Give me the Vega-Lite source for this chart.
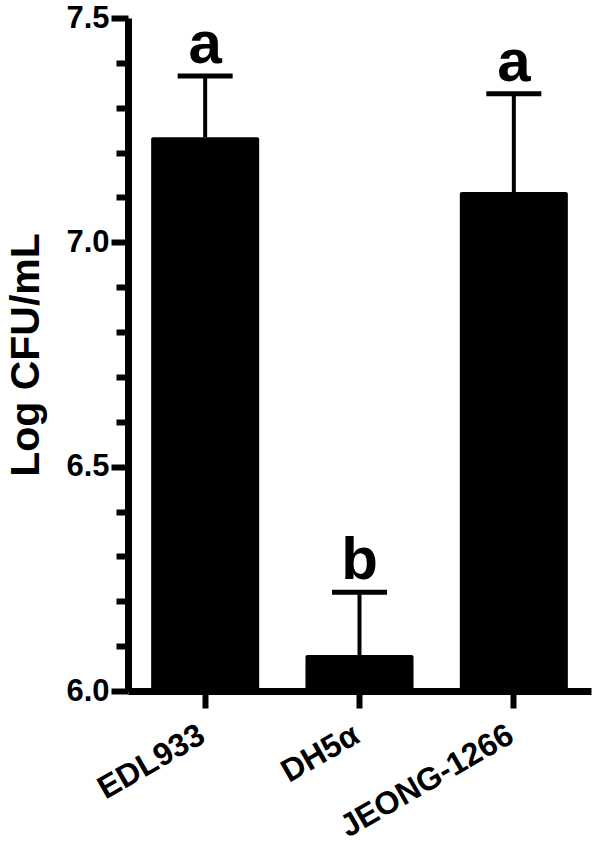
{
  "$schema": "https://vega.github.io/schema/vega-lite/v6.json",
  "width": 463,
  "height": 673,
  "autosize": {"type": "none"},
  "padding": {"left": 128, "top": 18, "right": 5, "bottom": 154},
  "background": "white",
  "config": {
    "font": "Liberation Sans",
    "view": {"stroke": null},
    "axis": {"grid": false, "domainColor": "black", "tickColor": "black", "labelColor": "black", "titleColor": "black", "labelFont": "Liberation Sans", "titleFont": "Liberation Sans", "labelFontWeight": "bold", "titleFontWeight": "bold"}
  },
  "data": {
    "values": [
      {"strain": "EDL933", "mean": 7.234, "upper": 7.371, "group": "a"},
      {"strain": "DH5α", "mean": 6.080, "upper": 6.220, "group": "b"},
      {"strain": "JEONG-1266", "mean": 7.112, "upper": 7.331, "group": "a"}
    ]
  },
  "encoding": {
    "x": {
      "field": "strain",
      "type": "nominal",
      "sort": null,
      "scale": {"paddingInner": 0.3, "paddingOuter": 0.15},
      "axis": {
        "title": null,
        "labelAngle": -30,
        "labelAlign": "right",
        "labelBaseline": "middle",
        "labelFontSize": 32,
        "labelPadding": 24,
        "labelOffset": -3,
        "labelLimit": 0,
        "tickSize": 17,
        "tickWidth": 6,
        "domainWidth": 7
      }
    }
  },
  "resolve": {"scale": {"y": "shared"}, "axis": {"y": "independent"}},
  "layer": [
    {
      "mark": {"type": "bar", "color": "black", "cornerRadius": 2},
      "encoding": {
        "y": {
          "field": "mean",
          "type": "quantitative",
          "scale": {"domain": [6, 7.5], "zero": false, "nice": false},
          "axis": {
            "orient": "left",
            "title": "Log CFU/mL",
            "titleFontSize": 41,
            "titlePadding": 18,
            "values": [6.0, 6.5, 7.0, 7.5],
            "format": ".1f",
            "labelFontSize": 31,
            "labelPadding": 2,
            "tickSize": 17,
            "tickWidth": 6,
            "domainWidth": 7,
            "labelOverlap": false,
            "labelBound": false,
            "labelFlush": false
          }
        },
        "y2": {"datum": 6}
      }
    },
    {
      "mark": {"type": "rule", "color": "black", "strokeWidth": 4},
      "encoding": {
        "y": {
          "field": "mean",
          "type": "quantitative",
          "axis": {
            "orient": "left",
            "title": null,
            "values": [6.1, 6.2, 6.3, 6.4, 6.6, 6.7, 6.8, 6.9, 7.1, 7.2, 7.3, 7.4],
            "labels": false,
            "domain": false,
            "tickSize": 12,
            "tickWidth": 6
          }
        },
        "y2": {"field": "upper"}
      }
    },
    {
      "mark": {"type": "tick", "color": "black", "size": 55, "thickness": 5, "opacity": 1},
      "encoding": {
        "y": {"field": "upper", "type": "quantitative", "axis": null}
      }
    },
    {
      "mark": {"type": "text", "fontSize": 60, "fontWeight": "bold", "baseline": "alphabetic", "dy": -13, "color": "black"},
      "encoding": {
        "y": {"field": "upper", "type": "quantitative", "axis": null},
        "text": {"field": "group"}
      }
    }
  ]
}
